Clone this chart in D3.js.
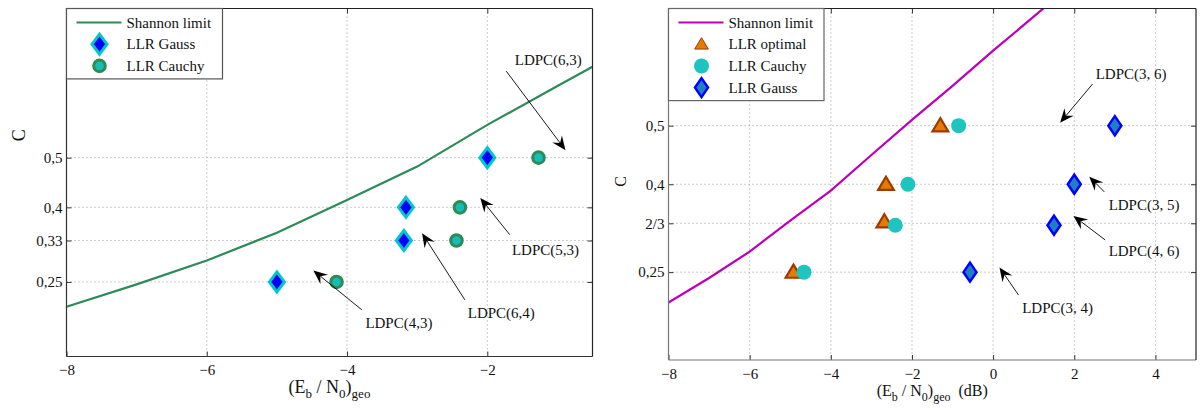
<!DOCTYPE html>
<html>
<head>
<meta charset="utf-8">
<script src="https://cdnjs.cloudflare.com/ajax/libs/d3/7.8.5/d3.min.js"></script>
<style>
  body { margin: 0; background: #fff; }
  svg text { font-family: "Liberation Serif", "Times New Roman", serif; fill: #111; }
</style>
</head>
<body>
<div id="chart"></div>
<script>
var serifFont = "'Liberation Serif', 'Times New Roman', serif";

// ---- left panel data ----
var shannonX1 = [-8, -7, -6, -5, -4, -3, -2, -1, -0.5];
var shannonC1 = [0.2, 0.245, 0.293, 0.349, 0.415, 0.482, 0.566, 0.644, 0.683];
var gaussX1 = [-5, -3.19, -3.16, -2];
var gaussC1 = [0.25, 1/3, 0.4, 0.5];
var cauchyX1 = [-4.15, -2.44, -2.39, -1.27];
var cauchyC1 = [0.25, 1/3, 0.4, 0.5];
var xTicks1 = [-8, -6, -4, -2];
var yTicks1 = [0.25, 1/3, 0.4, 0.5];
var yTickLabels1 = ["0,25", "0,33", "0,4", "0,5"];
var notes1 = [
  {label: "LDPC(6,3)", tx: -1.13, tc: 0.696, x0: -1.73, c0: 0.674, x1: -0.885, c1: 0.515},
  {label: "LDPC(5,3)", tx: -1.17, tc: 0.315, x0: -1.68, c0: 0.345, x1: -2.10, c1: 0.419},
  {label: "LDPC(6,4)", tx: -1.80, tc: 0.188, x0: -2.32, c0: 0.214, x1: -2.93, c1: 0.348},
  {label: "LDPC(4,3)", tx: -3.26, tc: 0.168, x0: -3.79, c0: 0.194, x1: -4.48, c1: 0.273}
];

// ---- right panel data ----
var shannonX2 = [-8, -7, -6, -5, -4, -3, -2, -1, 0, 1, 2];
var shannonC2 = [0.198, 0.24, 0.285, 0.338, 0.389, 0.45, 0.51, 0.568, 0.628, 0.686, 0.745];
var optX2 = [-4.92, -2.68, -2.64, -1.30];
var optC2 = [0.25, 0.336, 0.4, 0.5];
var cauchyX2 = [-4.66, -2.41, -2.10, -0.85];
var cauchyC2 = [0.25, 0.33, 0.4, 0.5];
var gaussX2 = [-0.57, 1.50, 2.0, 3.0];
var gaussC2 = [0.25, 0.33, 0.4, 0.5];
var xTicks2 = [-8, -6, -4, -2, 0, 2, 4];
var yTicks2 = [0.25, 1/3, 0.4, 0.5];
var yTickLabels2 = ["0,25", "2/3", "0,4", "0,5"];
var notes2 = [
  {label: "LDPC(3, 6)", tx: 3.40, tc: 0.589, x0: 2.45, c0: 0.571, x1: 1.65, c1: 0.505},
  {label: "LDPC(3, 5)", tx: 3.72, tc: 0.365, x0: 2.74, c0: 0.387, x1: 2.37, c1: 0.413},
  {label: "LDPC(4, 6)", tx: 3.72, tc: 0.287, x0: 2.76, c0: 0.305, x1: 1.98, c1: 0.346},
  {label: "LDPC(3, 4)", tx: 1.59, tc: 0.189, x0: 0.625, c0: 0.211, x1: 0.157, c1: 0.258}
];

var svg = d3.select("#chart").append("svg")
    .attr("width", 1202)
    .attr("height", 410)
    .style("font-family", serifFont);

svg.append("rect").attr("width", 1202).attr("height", 410).attr("fill", "#fff");

function zip(xs, cs) { return xs.map(function(x, i) { return {x: x, c: cs[i]}; }); }

// marker painters
function diamond(g, cx, cy, w, h, fill, stroke, sw) {
  g.append("path")
    .attr("d", "M" + cx + "," + (cy - h) + "L" + (cx + w) + "," + cy + "L" + cx + "," + (cy + h) + "L" + (cx - w) + "," + cy + "Z")
    .attr("fill", fill).attr("stroke", stroke).attr("stroke-width", sw).attr("stroke-linejoin", "miter");
}
function circle(g, cx, cy, r, fill, stroke, sw) {
  g.append("circle").attr("cx", cx).attr("cy", cy).attr("r", r)
    .attr("fill", fill).attr("stroke", stroke).attr("stroke-width", sw);
}
function triangle(g, cx, cy, s, fill, stroke, sw) {
  g.append("path")
    .attr("d", "M" + cx + "," + (cy - s) + "L" + (cx + s * 1.05) + "," + (cy + s * 0.75) + "L" + (cx - s * 1.05) + "," + (cy + s * 0.75) + "Z")
    .attr("fill", fill).attr("stroke", stroke).attr("stroke-width", sw).attr("stroke-linejoin", "miter");
}

var markers = {
  gauss1: function(g, x, y) { diamond(g, x, y, 7.5, 10, "#0000ff", "#00c8c8", 3); },
  cauchy1: function(g, x, y) { circle(g, x, y, 5.8, "#14bdb5", "#2e8b57", 3); },
  opt2: function(g, x, y) { triangle(g, x, y, 7.5, "#e57c00", "#9c3a00", 2.2); },
  opt2small: function(g, x, y) { triangle(g, x, y, 6.5, "#e57c00", "#9c3a00", 1); },
  cauchy2: function(g, x, y) { circle(g, x, y, 7.5, "#1ec4c0", "none", 0); },
  gauss2: function(g, x, y) { diamond(g, x, y, 6.5, 9.5, "#1e80c0", "#0000ff", 2.5); }
};

function xLabel(g, x, y, size, withDb) {
  var sub = Math.round(size * 0.74) + "px", sh = Math.round(size * 0.3);
  var t = g.append("text").attr("x", x).attr("y", y)
    .attr("text-anchor", "middle").style("font-size", size + "px");
  t.append("tspan").text("(E");
  t.append("tspan").attr("dy", sh).style("font-size", sub).text("b");
  t.append("tspan").attr("dy", -sh).text(" / N");
  t.append("tspan").attr("dy", sh).style("font-size", sub).text("0");
  t.append("tspan").attr("dy", -sh).text(")");
  t.append("tspan").attr("dy", sh).style("font-size", sub).text("geo");
  if (withDb) t.append("tspan").attr("dy", -sh).text("\u00a0\u00a0(dB)");
}

function drawPanel(p) {
  var x = d3.scaleLinear().domain(p.xDomain).range([p.left, p.right]);
  var y = d3.scaleLinear().domain(p.yDomain).range([p.bottom, p.top]);
  var g = svg.append("g");
  var clipId = "clip" + p.id;

  g.append("clipPath").attr("id", clipId).append("rect")
    .attr("x", p.left).attr("y", p.top)
    .attr("width", p.right - p.left).attr("height", p.bottom - p.top);

  // dotted grid
  g.selectAll(".vgrid").data(p.xTicks.filter(function(d) { return d > p.xDomain[0]; }))
    .enter().append("line")
    .attr("x1", function(d) { return x(d); }).attr("x2", function(d) { return x(d); })
    .attr("y1", p.top).attr("y2", p.bottom)
    .attr("stroke", "#999").attr("stroke-width", 1).attr("stroke-dasharray", "1,3");
  g.selectAll(".hgrid").data(p.yTicks)
    .enter().append("line")
    .attr("y1", function(d) { return y(d); }).attr("y2", function(d) { return y(d); })
    .attr("x1", p.left).attr("x2", p.right)
    .attr("stroke", "#999").attr("stroke-width", 1).attr("stroke-dasharray", "1,3");

  // Shannon limit
  var line = d3.line().x(function(d) { return x(d.x); }).y(function(d) { return y(d.c); });
  g.append("path").datum(p.shannon)
    .attr("clip-path", "url(#" + clipId + ")")
    .attr("d", line).attr("fill", "none")
    .attr("stroke", p.lineColor).attr("stroke-width", 2.2);

  // point series
  p.series.forEach(function(s) {
    s.points.forEach(function(d) { markers[s.marker](g, x(d.x), y(d.c)); });
  });

  // annotations
  p.notes.forEach(function(n) {
    var ax0 = x(n.x0), ay0 = y(n.c0), ax1 = x(n.x1), ay1 = y(n.c1);
    var ang = Math.atan2(ay1 - ay0, ax1 - ax0);
    g.append("line")
      .attr("x1", ax0).attr("y1", ay0)
      .attr("x2", ax1 - 9 * Math.cos(ang)).attr("y2", ay1 - 9 * Math.sin(ang))
      .attr("stroke", "#000").attr("stroke-width", 0.9);
    g.append("path").attr("d", "M0,0L-14,-6L-9,0L-14,6Z")
      .attr("transform", "translate(" + ax1 + "," + ay1 + ") rotate(" + (ang * 180 / Math.PI) + ")")
      .attr("fill", "#000");
    g.append("text").attr("x", x(n.tx)).attr("y", y(n.tc)).attr("dy", "0.35em")
      .attr("text-anchor", "middle").style("font-size", "15px").text(n.label);
  });

  // axes: ticks point inward
  var xAxis = d3.axisBottom(x).tickValues(p.xTicks).tickSizeInner(-5).tickSizeOuter(0)
    .tickPadding(p.xPad).tickFormat(function(d) { return d < 0 ? "\u2212" + (-d) : d; });
  var yAxis = d3.axisLeft(y).tickValues(p.yTicks).tickSizeInner(-5).tickSizeOuter(0)
    .tickPadding(4).tickFormat(function(d, i) { return p.yTickLabels[i]; });

  g.append("g").attr("transform", "translate(0," + p.bottom + ")").call(xAxis);
  g.append("g").attr("transform", "translate(" + p.left + ",0)").call(yAxis);
  g.append("g").attr("transform", "translate(0," + p.top + ")")
    .call(d3.axisTop(x).tickValues(p.xTicks).tickSizeInner(-5).tickSizeOuter(0).tickFormat(""));
  g.append("g").attr("transform", "translate(" + p.right + ",0)")
    .call(d3.axisRight(y).tickValues(p.yTicks).tickSizeInner(-5).tickSizeOuter(0).tickFormat(""));
  g.selectAll(".domain").remove();
  g.selectAll("g").attr("font-family", null);
  g.selectAll(".tick line").attr("stroke", "#333");
  g.selectAll(".tick text").style("font-size", "15px").attr("fill", "#111")
    .style("font-family", serifFont);

  // frame
  g.append("line").attr("x1", p.left).attr("x2", p.left).attr("y1", p.top).attr("y2", p.bottom)
    .attr("stroke", p.axisColor).attr("stroke-width", 1.2);
  g.append("line").attr("x1", p.left).attr("x2", p.right).attr("y1", p.bottom).attr("y2", p.bottom)
    .attr("stroke", p.axisColor).attr("stroke-width", 1.2);
  g.append("line").attr("x1", p.left).attr("x2", p.right).attr("y1", p.top).attr("y2", p.top)
    .attr("stroke", "#222").attr("stroke-width", 1.2);
  g.append("line").attr("x1", p.right).attr("x2", p.right).attr("y1", p.top).attr("y2", p.bottom)
    .attr("stroke", "#222").attr("stroke-width", 1.2);

  // axis titles
  g.append("text")
    .attr("transform", "translate(" + p.yTitleX + "," + y(p.yTitleC) + ") rotate(-90)")
    .attr("text-anchor", "middle").style("font-size", p.titleSize + "px").text("C");
  xLabel(g, (p.left + p.right) / 2, p.xTitleY, p.titleSize, p.withDb);

  // legend
  var rowH = 21.7;
  var lg = g.append("g");
  lg.append("rect").attr("x", p.left).attr("y", p.top)
    .attr("width", p.legendW).attr("height", 27 + (p.legend.length - 1) * rowH)
    .attr("fill", "#fff").attr("stroke", p.legendStroke).attr("stroke-width", 1.2);
  p.legend.forEach(function(item, i) {
    var ly = p.top + 14 + i * rowH;
    if (item.marker === "line") {
      lg.append("line").attr("x1", p.left + 10).attr("x2", p.left + 55)
        .attr("y1", ly).attr("y2", ly)
        .attr("stroke", p.lineColor).attr("stroke-width", 2.2);
    } else {
      markers[item.marker](lg, p.left + 33, ly);
    }
    lg.append("text").attr("x", p.left + 60).attr("y", ly).attr("dy", "0.35em")
      .style("font-size", "15px").text(item.name);
  });
}

drawPanel({
  id: 1, left: 66.5, right: 592.5, top: 8.5, bottom: 356.5,
  xDomain: [-8, -0.5], yDomain: [0.1, 0.8],
  xTicks: xTicks1, yTicks: yTicks1, yTickLabels: yTickLabels1, xPad: 8,
  shannon: zip(shannonX1, shannonC1), lineColor: "#2e8b57",
  series: [
    {marker: "gauss1", points: zip(gaussX1, gaussC1)},
    {marker: "cauchy1", points: zip(cauchyX1, cauchyC1)}
  ],
  notes: notes1, axisColor: "#333", legendStroke: "#555", legendW: 156,
  legend: [
    {name: "Shannon limit", marker: "line"},
    {name: "LLR Gauss", marker: "gauss1"},
    {name: "LLR Cauchy", marker: "cauchy1"}
  ],
  yTitleX: 25, yTitleC: 0.545, xTitleY: 393, titleSize: 18, withDb: false
});

drawPanel({
  id: 2, left: 668.5, right: 1196, top: 8.5, bottom: 360,
  xDomain: [-8, 5], yDomain: [0.1, 0.7],
  xTicks: xTicks2, yTicks: yTicks2, yTickLabels: yTickLabels2, xPad: 8,
  shannon: zip(shannonX2, shannonC2), lineColor: "#bb00bb",
  series: [
    {marker: "opt2", points: zip(optX2, optC2)},
    {marker: "cauchy2", points: zip(cauchyX2, cauchyC2)},
    {marker: "gauss2", points: zip(gaussX2, gaussC2)}
  ],
  notes: notes2, axisColor: "#777", legendStroke: "#666", legendW: 155.5,
  legend: [
    {name: "Shannon limit", marker: "line"},
    {name: "LLR optimal", marker: "opt2small"},
    {name: "LLR Cauchy", marker: "cauchy2"},
    {name: "LLR Gauss", marker: "gauss2"}
  ],
  yTitleX: 626, yTitleC: 0.405, xTitleY: 396, titleSize: 16, withDb: true
});
</script>
</body>
</html>
